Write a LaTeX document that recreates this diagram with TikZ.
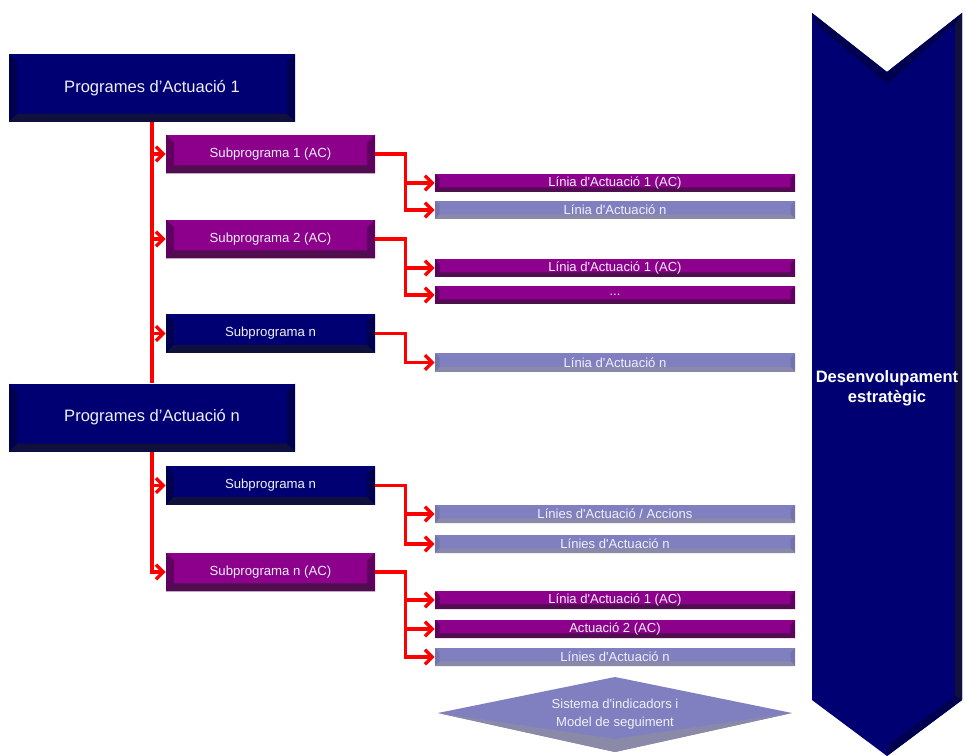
\documentclass[tikz,border=0pt]{standalone}
\usepackage{fontspec}
\setmainfont{Liberation Sans}
\usetikzlibrary{arrows.meta}
\definecolor{navy}{RGB}{0,0,115}
\definecolor{navyside}{RGB}{0,0,80}
\definecolor{navybot}{RGB}{16,16,60}
\definecolor{purp}{RGB}{140,0,140}
\definecolor{purpside}{RGB}{96,0,96}
\definecolor{purpbot}{RGB}{80,14,80}
\definecolor{lav}{RGB}{128,128,192}
\definecolor{lavside}{RGB}{116,116,172}
\definecolor{lavbot}{RGB}{138,138,168}
\definecolor{txt}{RGB}{240,240,248}
% bevelled edges: side colour, bottom colour, depth
\newcommand\bevel[3]{%
  \path (path picture bounding box.south west) coordinate (bsw)
        (path picture bounding box.north east) coordinate (bne);
  \fill[#1] (bsw) -- ([shift={(#3,#3)}]bsw) -- ([shift={(#3,-#3)}]bsw |- bne) -- (bsw |- bne) -- cycle;
  \fill[#1] (bne) -- ([shift={(-#3,-#3)}]bne) -- ([shift={(-#3,#3)}]bne |- bsw) -- (bne |- bsw) -- cycle;
  \fill[#2] (bsw) -- ([shift={(#3,#3)}]bsw) -- ([shift={(-#3,#3)}]bne |- bsw) -- (bne |- bsw) -- cycle;
}
\tikzset{
  prog/.style={minimum width=214.5pt, minimum height=51pt, inner sep=0pt, text=txt,
    font=\fontsize{12.4}{14}\selectfont, fill=navy, path picture={\bevel{navyside}{navybot}{6pt}}},
  sub/.style={minimum width=156.75pt, minimum height=29pt, inner sep=0pt, text=txt,
    font=\fontsize{9.9}{12}\selectfont, fill=navy, path picture={\bevel{navyside}{navybot}{6pt}}},
  subac/.style={sub, fill=purp, path picture={\bevel{purpside}{purpbot}{6pt}}},
  lin/.style={minimum width=270pt, minimum height=13.5pt, inner sep=0pt, text=txt,
    font=\fontsize{9.8}{11}\selectfont},
  linac/.style={lin, fill=purp, path picture={\bevel{purpside}{purpbot}{3.5pt}}},
  linn/.style={lin, fill=lav, path picture={\bevel{lavside}{lavbot}{3.5pt}}},
  wire/.style={red, line width=2.6pt},
  feed/.style={wire, -{Straight Barb[length=5.5pt,width=11pt]}}
}
\begin{document}
\begin{tikzpicture}[x=0.75pt, y=-0.75pt]
\useasboundingbox (0,0) rectangle (965,756);

% programmes and subprogrammes
\node[prog] (prog1) at (152,88) {Programes d’Actuació 1};
\node[prog] (progn) at (152,417.5) {Programes d’Actuació n};
\node[subac] (sub1) at (270.5,154) {Subprograma 1 (AC)};
\node[subac] (sub2) at (270.5,239) {Subprograma 2 (AC)};
\node[sub] (sub3) at (270.5,333.5) {Subprograma n};
\node[sub] (sub4) at (270.5,485.5) {Subprograma n};
\node[subac] (sub5) at (270.5,572) {Subprograma n (AC)};

% lines of action
\node[linac] (l11) at (615,183) {Línia d\textquotesingle Actuació 1 (AC)};
\node[linn]  (l12) at (615,210) {Línia d\textquotesingle Actuació n};
\node[linac] (l21) at (615,268) {Línia d\textquotesingle Actuació 1 (AC)};
\node[linac] (l22) at (615,295) {...};
\node[linn]  (l31) at (615,362.5) {Línia d\textquotesingle Actuació n};
\node[linn]  (l41) at (615,514) {Línies d\textquotesingle Actuació / Accions};
\node[linn]  (l42) at (615,544) {Línies d\textquotesingle Actuació n};
\node[linac] (l51) at (615,600) {Línia d\textquotesingle Actuació 1 (AC)};
\node[linac] (l52) at (615,629) {Actuació 2 (AC)};
\node[linn]  (l53) at (615,657) {Línies d\textquotesingle Actuació n};

% connectors
\draw[wire] (prog1.south) -- (progn.north);
\foreach \s in {sub1,sub2,sub3}
  \draw[feed] (prog1.south) |- (\s.west);
\foreach \s in {sub4,sub5}
  \draw[feed] (progn.south) |- (\s.west);
\foreach \s/\l in {sub1/l11, sub1/l12, sub2/l21, sub2/l22, sub3/l31,
                   sub4/l41, sub4/l42, sub5/l51, sub5/l52, sub5/l53}
  \draw[feed] (\s.east) -- ++(30,0) |- (\l.west);

% monitoring diamond
\fill[lav] (438,713) -- (615,677) -- (792,713) -- (615,752) -- cycle;
\fill[lavbot] (438,713) -- (615,739) -- (792,713) -- (615,752) -- cycle;
\node[text=txt, font=\fontsize{9.8}{13.5}\selectfont, align=center] (ind) at (615,714)
  {Sistema d\textquotesingle indicadors i\\Model de seguiment};

% strategic development arrow
\fill[navy] (812,13) -- (887,72) -- (962,13) -- (962,700) -- (887,756) -- (812,700) -- cycle;
\fill[navyside] (812,13) -- (887,72) -- (962,13) -- (955,24) -- (887,84) -- (818,26) -- cycle;
\fill[navybot] (955,24) -- (962,13) -- (962,700) -- (955,696) -- cycle;
\fill[navyside] (955,696) -- (962,700) -- (887,756) -- (887,746) -- cycle;
\node[text=white, font=\bfseries\fontsize{12.4}{15}\selectfont, align=center] (dev) at (887,388)
  {Desenvolupament\\estratègic};
\end{tikzpicture}
\end{document}
